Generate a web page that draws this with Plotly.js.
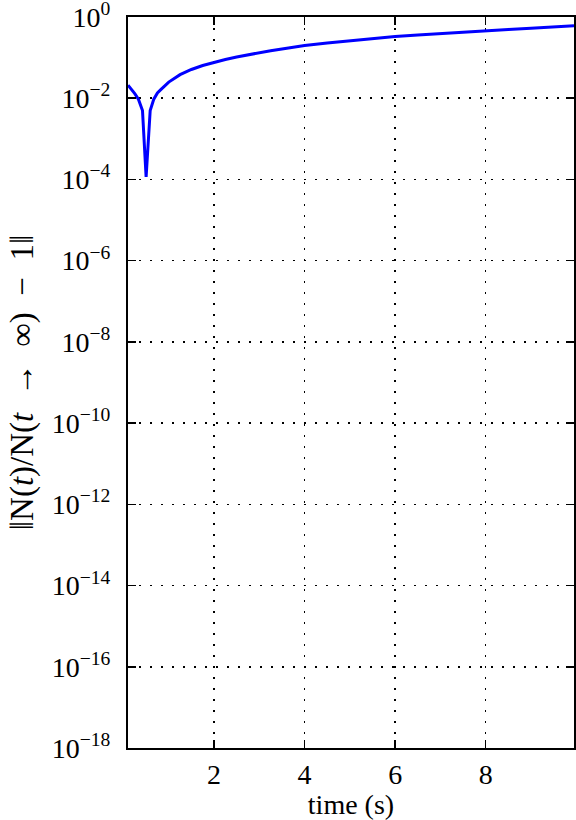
<!DOCTYPE html>
<html>
<head>
<meta charset="utf-8">
<script src="https://cdn.plot.ly/plotly-3.0.1.min.js"></script>
<style>html,body{margin:0;padding:0;background:#fff;}#chart{width:576px;height:820px;}</style>
</head>
<body>
<div id="chart"></div>
<script>
// time (s)
const timeS = [0.1, 0.17, 0.25, 0.33, 0.42, 0.5, 0.59, 0.67, 0.75, 0.83, 1.0, 1.25, 1.5, 1.75, 2.0, 2.25, 2.5, 2.75, 3.0, 3.25, 3.5, 4.0, 4.5, 5.0, 5.5, 6.0, 6.5, 7.0, 7.5, 8.0, 8.5, 9.0, 9.5, 9.95];
// ||N(t)/N(t->inf) - 1||
const relError = [0.021, 0.017, 0.013, 0.0095, 0.005, 0.000115, 0.005, 0.0095, 0.0135, 0.0165, 0.025, 0.038, 0.051, 0.064, 0.077, 0.090, 0.104, 0.118, 0.133, 0.148, 0.163, 0.198, 0.228, 0.262, 0.298, 0.333, 0.362, 0.395, 0.428, 0.46, 0.495, 0.53, 0.57, 0.61];
const yTickVals = [1e-18, 1e-16, 1e-14, 1e-12, 1e-10, 1e-8, 1e-6, 1e-4, 1e-2, 1];
const yTickText = ["10<sup>−18</sup>", "10<sup>−16</sup>", "10<sup>−14</sup>", "10<sup>−12</sup>", "10<sup>−10</sup>", "10<sup>−8</sup>", "10<sup>−6</sup>", "10<sup>−4</sup>", "10<sup>−2</sup>", "10<sup>0</sup>"];
const xTickVals = [2, 4, 6, 8];

const fam = "Liberation Serif";
const font = {family: fam, size: 28, color: "#000"};

const trace = {
  x: timeS, y: relError, type: "scatter", mode: "lines",
  line: {color: "#0000ff", width: 3}, hoverinfo: "skip"
};

const axisCommon = {
  showline: true, linecolor: "#000", linewidth: 2, mirror: "ticks",
  ticks: "inside", ticklen: 8, tickwidth: 1.5, tickcolor: "#000",
  showgrid: true, gridcolor: "#000", gridwidth: 1.5, griddash: "2px,9px",
  zeroline: false, tickfont: font, ticklabeloverflow: "allow"
};

const layout = {
  width: 576, height: 820,
  margin: {l: 128, r: 2, t: 17, b: 72},
  paper_bgcolor: "#fff", plot_bgcolor: "#fff",
  font: font, showlegend: false,
  xaxis: Object.assign({}, axisCommon, {
    range: [0.1, 9.95], tickvals: xTickVals, ticktext: xTickVals.map(String),
    ticklabelstandoff: 0,
    title: {text: "time (s)", font: font, standoff: 2}
  }),
  yaxis: Object.assign({}, axisCommon, {
    type: "log", range: [-18, 0], tickvals: yTickVals, ticktext: yTickText,
    ticklabelstandoff: 10,
    title: {text: "‖N(<i>t</i>)/N(<i>t</i>\u2002→\u2002∞)\u2002−\u20021‖", font: {family: fam, size: 33, color: "#000"}, standoff: 8}
  })
};

Plotly.newPlot("chart", [trace], layout, {staticPlot: true, displayModeBar: false});
</script>
</body>
</html>
